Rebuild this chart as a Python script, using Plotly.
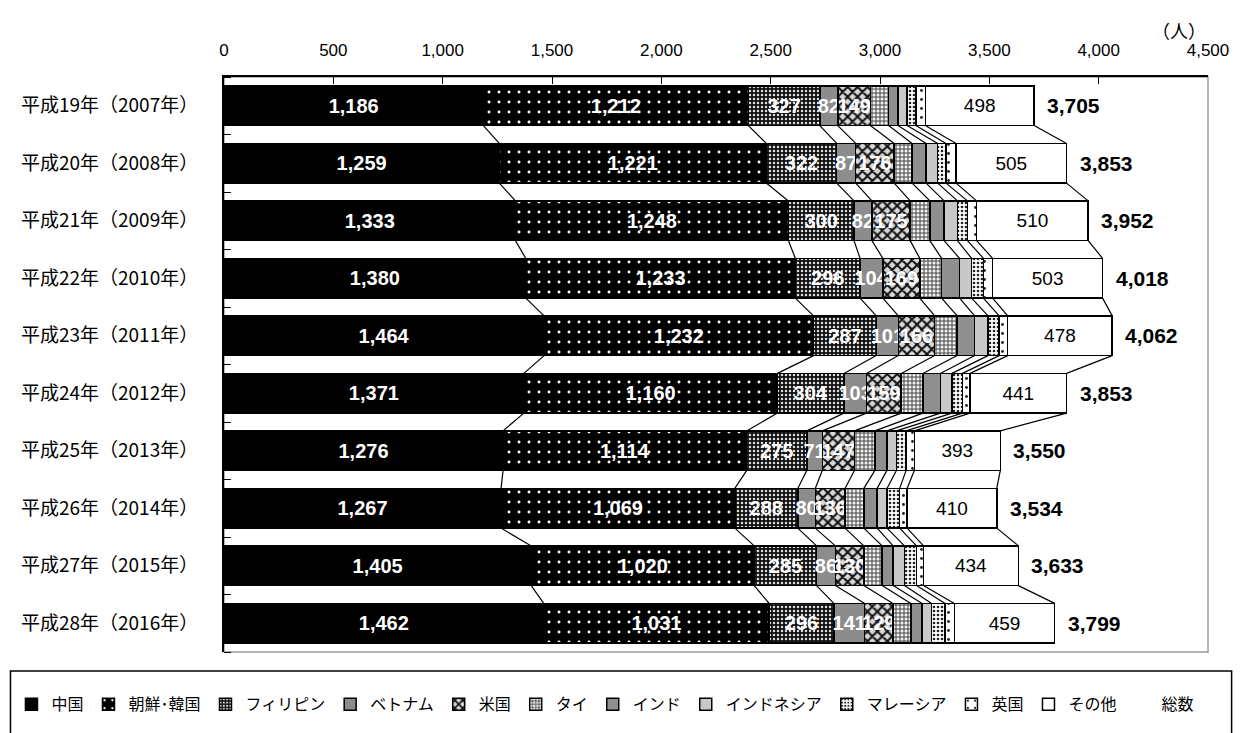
import plotly.graph_objects as go

years = ["平成19年（2007年）", "平成20年（2008年）", "平成21年（2009年）", "平成22年（2010年）",
         "平成23年（2011年）", "平成24年（2012年）", "平成25年（2013年）", "平成26年（2014年）",
         "平成27年（2015年）", "平成28年（2016年）"]

china = [1186, 1259, 1333, 1380, 1464, 1371, 1276, 1267, 1405, 1462]
korea = [1212, 1221, 1248, 1233, 1232, 1160, 1114, 1069, 1020, 1031]
phil = [327, 322, 300, 296, 287, 304, 275, 288, 285, 296]
viet = [82, 87, 82, 104, 101, 103, 71, 80, 86, 141]
us = [149, 176, 175, 169, 166, 159, 147, 136, 130, 129]
thai = [83, 82, 90, 100, 103, 99, 93, 86, 84, 82]
india = [43, 64, 65, 82, 80, 80, 55, 61, 50, 52]
indo = [42, 53, 61, 55, 61, 53, 44, 45, 52, 43]
malay = [40, 38, 46, 54, 51, 48, 44, 58, 55, 62]
uk = [43, 46, 42, 42, 39, 35, 38, 34, 32, 42]
other = [498, 505, 510, 503, 478, 441, 393, 410, 434, 459]
total = [3705, 3853, 3952, 4018, 4062, 3853, 3550, 3534, 3633, 3799]

x_ticks = [0, 500, 1000, 1500, 2000, 2500, 3000, 3500, 4000, 4500]

NUM_FONT = "Liberation Sans"
JP_FONT = "Noto Sans CJK JP"

series = [
    ("中国", china, dict(color="black"), "white", True),
    ("朝鮮･韓国", korea, dict(color="black", pattern=dict(shape=".", fgcolor="white", bgcolor="black", size=10, solidity=0.07, fillmode="replace")), "white", True),
    ("フィリピン", phil, dict(color="#333", pattern=dict(shape=".", fgcolor="#dddddd", bgcolor="#111111", size=4, solidity=0.3, fillmode="replace")), "white", True),
    ("ベトナム", viet, dict(color="#8c8c8c"), "white", True),
    ("米国", us, dict(color="#999", pattern=dict(shape="x", fgcolor="#111111", bgcolor="#d8d8d8", size=7, solidity=0.5, fillmode="replace")), "white", True),
    ("タイ", thai, dict(color="#999", pattern=dict(shape=".", fgcolor="#f0f0f0", bgcolor="#6e6e6e", size=4, solidity=0.45, fillmode="replace")), None, False),
    ("インド", india, dict(color="#8f8f8f"), None, False),
    ("インドネシア", indo, dict(color="#c8c8c8"), None, False),
    ("マレーシア", malay, dict(color="white", pattern=dict(shape=".", fgcolor="#222222", bgcolor="white", size=4, solidity=0.35, fillmode="replace")), None, False),
    ("英国", uk, dict(color="white", pattern=dict(shape=".", fgcolor="#222222", bgcolor="white", size=9, solidity=0.08, fillmode="replace")), None, False),
    ("その他", other, dict(color="white"), "black", False),
]

ypos = list(range(len(years)))
BAR_W = 0.69

fig = go.Figure()
for name, vals, mk, tcolor, bold in series:
    mk = dict(mk)
    mk["line"] = dict(color="black", width=1.5)
    kw = {}
    if tcolor is not None:
        kw = dict(
            texttemplate="%{x:,}",
            textposition="inside",
            insidetextanchor="middle",
            textangle=0,
            constraintext="none",
            textfont=dict(color=tcolor, size=20 if bold else 19, family=NUM_FONT,
                          weight="bold" if bold else "normal"),
        )
    fig.add_trace(go.Bar(
        name=name, x=vals, y=ypos, orientation="h", width=BAR_W,
        marker=mk, hoverinfo="skip", **kw
    ))

# legend-only entry for totals
fig.add_trace(go.Bar(
    name="総数", x=[0] * len(years), y=ypos, orientation="h", width=BAR_W,
    marker=dict(color="rgba(0,0,0,0)", line=dict(width=0)), hoverinfo="skip"
))

# series lines connecting cumulative boundaries between consecutive bars
cum = [0] * len(years)
for name, vals, *_ in series:
    cum = [c + v for c, v in zip(cum, vals)]
    xs, ys = [], []
    for i in range(len(years) - 1):
        xs += [cum[i], cum[i + 1], None]
        ys += [i + BAR_W / 2, i + 1 - BAR_W / 2, None]
    fig.add_trace(go.Scatter(x=xs, y=ys, mode="lines", line=dict(color="black", width=1.2),
                             showlegend=False, hoverinfo="skip"))

# total labels
for i, t in enumerate(total):
    fig.add_annotation(x=t, y=i, text=f"{t:,}", showarrow=False, xanchor="left",
                       xshift=11, font=dict(size=21, family=NUM_FONT, color="black", weight="bold"))

fig.add_annotation(x=1.0, y=1.0, xref="paper", yref="paper", yshift=32, yanchor="bottom",
                   text="（人）", showarrow=False,
                   font=dict(size=18, family=JP_FONT, color="black"))

# plot-area border (grey) and legend box
fig.add_shape(type="rect", xref="paper", yref="paper", x0=0, y0=0, x1=1, y1=1,
              line=dict(color="#9a9a9a", width=1.5), layer="below")
fig.add_shape(type="rect", xref="paper", yref="paper", x0=-0.217, y0=-0.17, x1=1.024, y1=-0.033,
              line=dict(color="black", width=1.5))

fig.update_layout(
    width=1241, height=733,
    barmode="stack",
    bargap=0.3,
    plot_bgcolor="white", paper_bgcolor="white",
    margin=dict(l=220, r=30, t=77, b=74),
    font=dict(family=JP_FONT, color="black"),
    showlegend=True,
    legend=dict(orientation="h", x=-0.216, xanchor="left", y=-0.091, yanchor="middle",
                traceorder="normal", font=dict(size=16, family=JP_FONT),
                bgcolor="rgba(0,0,0,0)", itemwidth=30, tracegroupgap=0),
    xaxis=dict(side="top", range=[0, 4500], tickvals=x_ticks, tickformat=",d",
               ticks="inside", ticklen=7, tickcolor="black", tickwidth=1.2,
               ticklabelstandoff=12,
               showline=True, linecolor="black", linewidth=2, showgrid=False, zeroline=False,
               tickfont=dict(size=17, family=NUM_FONT, color="black")),
    yaxis=dict(range=[len(years) - 0.5, -0.5], tickvals=ypos, ticktext=years, ticks="",
               showline=True, linecolor="black", linewidth=2, showgrid=False, zeroline=False,
               ticklabelstandoff=20,
               tickfont=dict(size=19, family=JP_FONT, color="black"),
               minor=dict(tickvals=[i + 0.5 for i in range(-1, len(years))], ticks="inside",
                          ticklen=7, tickcolor="black", tickwidth=1.2)),
)

fig.write_html("out.html", config={"displayModeBar": False},
               post_script="document.body.style.margin='0';document.body.style.overflow='hidden';")
